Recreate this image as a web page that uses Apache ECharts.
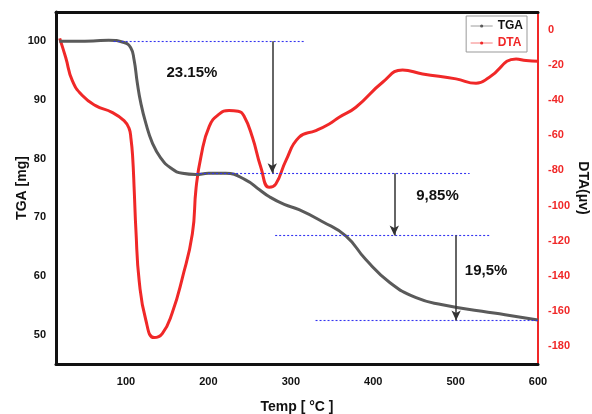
<!DOCTYPE html>
<html>
<head>
<meta charset="utf-8">
<script src="https://cdn.jsdelivr.net/npm/echarts@6/dist/echarts.min.js"></script>
<style>
  html, body { margin: 0; padding: 0; background: #fff; }
  #chart { width: 592px; height: 414px; }
</style>
</head>
<body>
<div id="chart"></div>
<script>
  // TGA curve (temperature °C -> mass mg)
  var tgaTemp = [19, 40, 60, 79, 97.6, 105.7, 109.7, 113.7, 117.9, 123.9, 131.9, 142.2, 154.3, 168.4, 184.7, 200, 221, 245, 262, 274, 292, 310, 338, 367, 391, 420, 452, 484, 532, 560, 600];
  var tgaMass = [100, 100, 100.05, 100.2, 99.8, 98.9, 96.9, 92.9, 89.5, 86.1, 82.7, 80.1, 78.4, 77.5, 77.3, 77.5, 77.5, 76.4, 74.7, 73.5, 72.2, 71.3, 69.3, 66.8, 62.8, 58.9, 56.3, 55.1, 54.0, 53.4, 52.5];

  // DTA curve (temperature °C -> signal µV)
  var dtaTemp = [19.5, 26.7, 34.8, 47, 63, 83, 97.6, 103.6, 106, 108, 110, 112, 116, 124, 134, 144, 156, 168.4, 180.5, 185, 191, 201, 213, 225, 236, 243, 253.4, 263.6, 273.7, 281.8, 294, 310, 330.4, 346.6, 358.7, 379, 411.4, 435.6, 459.9, 500.5, 524.8, 541, 573.4, 585.5, 600];
  var dtaSignal = [-5, -15.7, -29, -37.5, -43.2, -47, -51.7, -56, -62, -72, -92, -114, -143, -165, -175, -172.7, -161, -141, -116, -90, -72, -55, -48, -46, -46.4, -49, -61.2, -78.2, -89.6, -87.7, -74.4, -61.2, -57.4, -53.6, -49.8, -44.1, -29.9, -22.9, -25.2, -28, -30.5, -27.1, -16.7, -17.6, -18];

  // dotted reference levels: [fromTemp, toTemp, mass]
  var levelLines = [[85, 316, 100], [185, 517, 77.5], [281, 543, 66.9], [330, 600, 52.4]];
  // arrows: [temp, fromMass, toMass]
  var stepArrows = [[277.5, 100, 77.5], [425.6, 77.5, 66.9], [500.6, 66.9, 52.4]];
  // mass-loss labels: [text, temp, mass]
  var lossLabels = [['23.15%', 180, 94.7], ['9,85%', 478, 73.7], ['19,5%', 537, 60.8]];

  function zip(a, b) {
    return a.map(function (v, i) { return [v, b[i]]; });
  }

  var chart = echarts.init(document.getElementById('chart'));

  var levelMarks = levelLines.map(function (l) {
    return [{ coord: [l[0], l[2]] }, { coord: [l[1], l[2]] }];
  });
  var arrowMarks = stepArrows.map(function (a) {
    return [{ coord: [a[0], a[1]] }, { coord: [a[0], a[2]] }];
  });

  var option = {
    animation: false,
    textStyle: { fontFamily: 'Liberation Sans, Arial, sans-serif' },
    grid: { left: 56, right: 54, top: 12, bottom: 50, containLabel: false, outerBoundsMode: 'none' },
    legend: {
      right: 65,
      top: 16,
      orient: 'vertical',
      itemWidth: 22,
      itemHeight: 4,
      itemGap: 5,
      padding: [4, 4, 3, 4],
      borderColor: '#999',
      borderWidth: 1,
      lineStyle: { width: 1, opacity: 0.6 },
      data: [
        { name: 'TGA', textStyle: { color: '#111', fontWeight: 'bold', fontSize: 12 } },
        { name: 'DTA', textStyle: { color: '#f02828', fontWeight: 'bold', fontSize: 12 } }
      ]
    },
    xAxis: [{
      type: 'value',
      min: 15,
      max: 600,
      interval: 5,
      name: 'Temp [ °C ]',
      nameLocation: 'middle',
      nameGap: 36,
      nameMoveOverlap: false,
      nameTextStyle: { fontWeight: 'bold', fontSize: 14, color: '#111' },
      axisLine: { onZero: false, lineStyle: { color: '#111', width: 3 } },
      axisTick: { show: false },
      splitLine: { show: false },
      axisLabel: {
        interval: 0,
        color: '#111', fontWeight: 'bold', fontSize: 11, margin: 12,
        formatter: function (v) { return v % 100 === 0 ? v : ''; }
      }
    }, {
      type: 'value',
      position: 'top',
      min: 15,
      max: 600,
      axisLine: { show: true, onZero: false, lineStyle: { color: '#111', width: 3 } },
      axisTick: { show: false },
      axisLabel: { show: false },
      splitLine: { show: false }
    }],
    yAxis: [{
      type: 'value',
      min: 45,
      max: 105,
      interval: 5,
      name: 'TGA [mg]',
      nameLocation: 'middle',
      nameGap: 27,
      nameMoveOverlap: false,
      nameTextStyle: { fontWeight: 'bold', fontSize: 14, color: '#111' },
      axisLine: { show: true, onZero: false, lineStyle: { color: '#111', width: 3 } },
      axisTick: { show: false },
      splitLine: { show: false },
      axisLabel: {
        interval: 0,
        color: '#111', fontWeight: 'bold', fontSize: 11, margin: 10,
        formatter: function (v) { return v % 10 === 0 ? v : ''; }
      }
    }, {
      type: 'value',
      min: -190,
      max: 10,
      interval: 10,
      position: 'right',
      name: 'DTA(μv)',
      nameLocation: 'middle',
      nameRotate: -90,
      nameGap: 38,
      nameMoveOverlap: false,
      nameTextStyle: { fontWeight: 'bold', fontSize: 14, color: '#111' },
      axisLine: { show: true, onZero: false, lineStyle: { color: '#f02828', width: 2 } },
      axisTick: { show: false },
      splitLine: { show: false },
      axisLabel: {
        interval: 0,
        color: '#f02828', fontWeight: 'bold', fontSize: 11, margin: 10,
        formatter: function (v) { return v % 20 === 0 ? v : ''; }
      }
    }],
    series: [{
      name: 'TGA',
      type: 'line',
      yAxisIndex: 0,
      smooth: 0.5,
      symbol: 'circle',
      symbolSize: 4,
      showSymbol: false,
      itemStyle: { color: '#5a5a5a' },
      lineStyle: { color: '#5a5a5a', width: 3 },
      data: zip(tgaTemp, tgaMass),
      markPoint: {
        silent: true,
        symbolSize: 0,
        label: { show: true, color: '#111', fontWeight: 'bold', fontSize: 15, formatter: '{b}' },
        data: lossLabels.map(function (t) { return { name: t[0], coord: [t[1], t[2]] }; })
      },
      z: 3
    }, {
      name: 'DTA',
      type: 'line',
      yAxisIndex: 1,
      smooth: 0.5,
      symbol: 'circle',
      symbolSize: 4,
      showSymbol: false,
      itemStyle: { color: '#f02828' },
      lineStyle: { color: '#f02828', width: 3 },
      data: zip(dtaTemp, dtaSignal),
      z: 2
    }, {
      // dotted mass levels
      name: 'levels',
      type: 'line',
      yAxisIndex: 0,
      data: [],
      itemStyle: { color: '#3434f0' },
      markLine: {
        silent: true,
        symbol: 'none',
        label: { show: false },
        emphasis: { disabled: true },
        lineStyle: { color: '#3434f0', type: [2, 2], width: 1.1, opacity: 1 },
        data: levelMarks
      },
      z: 5
    }, {
      // arrows between mass levels
      name: 'steps',
      type: 'line',
      yAxisIndex: 0,
      data: [],
      itemStyle: { color: '#333' },
      markLine: {
        silent: true,
        symbol: ['none', 'arrow'],
        symbolSize: [7, 10],
        label: { show: false },
        lineStyle: { color: '#333', type: 'solid', width: 1.5 },
        data: arrowMarks
      },
      z: 4
    }]
  };

  chart.setOption(option);
</script>
</body>
</html>
